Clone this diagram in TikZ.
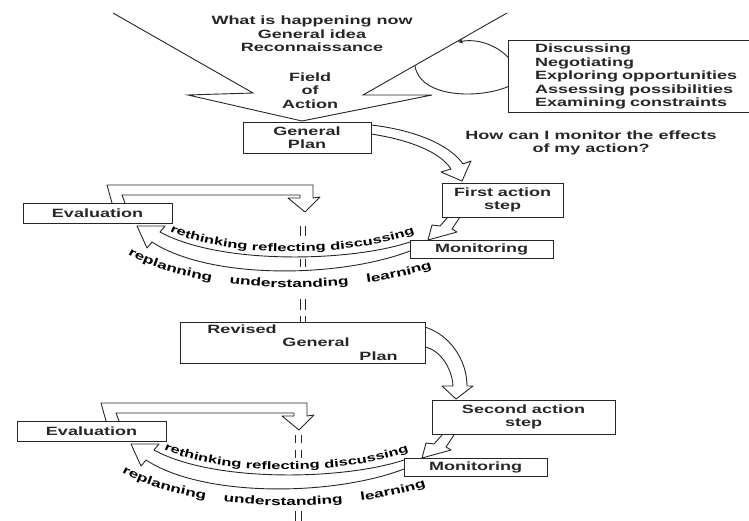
\documentclass[tikz,border=0pt]{standalone}
\usepackage{fontspec}
\setmainfont{Liberation Sans}[FakeStretch=1.5]
\usetikzlibrary{positioning,arrows.meta,decorations.text}

\begin{document}
\begin{tikzpicture}[
    x=1pt, y=-1pt,
    line width=0.9pt,
    color=black!85,
    every node/.style={font=\bfseries\fontsize{12}{13.5}\selectfont},
    stepbox/.style={draw, inner sep=0pt, align=center},
    hollow/.style={draw, line join=round},
    curvedtext/.style 2 args={decorate, decoration={text along path, text align=fit to path stretching spaces,
        text={|\bfseries\fontsize{#1}{12}\selectfont|#2}}}
]
    \clip (0,0) rectangle (749,521);

    % field of action
    \draw (113,13) -- (253,93) -- (188,95) -- (302,121) -- (432,95) -- (363,95) -- (507,13);
    \node[align=center] (now) at (312,34) {What is happening now\\General idea\\Reconnaissance};
    \node[align=center] (field) at (310,90.5) {Field\\of\\Action};
    \draw[-{Stealth[length=5pt,width=4.5pt]}] (415,66) .. controls (420,98) and (480,100) .. (512,85)
        .. controls (530,70) and (495,35) .. (458,42);
    \node[stepbox, fill=white, minimum width=269, minimum height=72, text width=215, align=left] (talk)
        at (642.5,76.5) {Discussing\\Negotiating\\Exploring opportunities\\Assessing possibilities\\Examining constraints};
    \node[align=center] (how) at (591,143) {How can I monitor the effects\\of my action?};

    % plans and action steps
    \node[stepbox, minimum width=128, minimum height=31] (gplan) at (307,137.5) {General\\Plan};
    \node[stepbox, minimum width=121, minimum height=34] (act1) at (502.5,200) {First action\\step};
    \node[stepbox, minimum width=245, minimum height=41, align=left] (revised) at (302.5,342.5)
        {Revised\\\hspace*{75pt}General\\\hspace*{152pt}Plan};
    \node[stepbox, minimum width=183, minimum height=34] (act2) at (523.5,417) {Second action\\step};

    \draw[hollow] (371,125) .. controls (415,130) and (450,145) .. (463,164) -- (471,161) -- (462,181)
        -- (441,172) -- (451,169) .. controls (440,152) and (410,140) .. (371,134);
    \draw[hollow] (425,327) .. controls (450,335) and (467,360) .. (467,386) -- (473,386) -- (456,399)
        -- (442,386) -- (453,386) .. controls (452,368) and (440,350) .. (425,347);

    % the two monitoring cycles
    \foreach \dx/\dy/\n in {0/0/1, -6/218/2}{
        \begin{scope}[shift={(\dx,\dy)}]
            \node[stepbox, minimum width=149, minimum height=20] (eval\n) at (97.5,213) {Evaluation};
            \node[stepbox, minimum width=143, minimum height=18] (mon\n) at (481.5,249) {Monitoring};
            \draw[hollow] (112,203) -- (107,185) -- (313,185) -- (313,198) -- (320,197) -- (305,212)
                -- (288,198) -- (300,198) -- (300,195) -- (122,195) -- (125,203);
            \draw[hollow] (448,217) -- (440,226) -- (432,225) -- (428,240) -- (457,232) -- (452,229) -- (460,217);
            \draw[hollow] (410,242) .. controls (350,262) and (220,265) .. (160,232) -- (165,226) -- (137,226)
                -- (147,248) -- (152,242) .. controls (210,280) and (340,278) .. (410,251);
            \path[curvedtext={11}{rethinking reflecting discussing}] (170,231) .. controls (225,259) and (350,257) .. (414,234);
            \path[curvedtext={11.5}{replanning understanding learning}] (128,254) .. controls (200,296) and (350,296) .. (432,268);
        \end{scope}
    }

    % dashed links down to the next plan
    \foreach \ya/\yb in {226/236, 259/267, 299/310, 316/322}
        \draw (300,\ya) -- (300,\yb) (305,\ya) -- (305,\yb);
    \foreach \ya/\yb in {435/443, 450/458, 511/521}
        \draw (295,\ya) -- (295,\yb) (301,\ya) -- (301,\yb);
\end{tikzpicture}
\end{document}
